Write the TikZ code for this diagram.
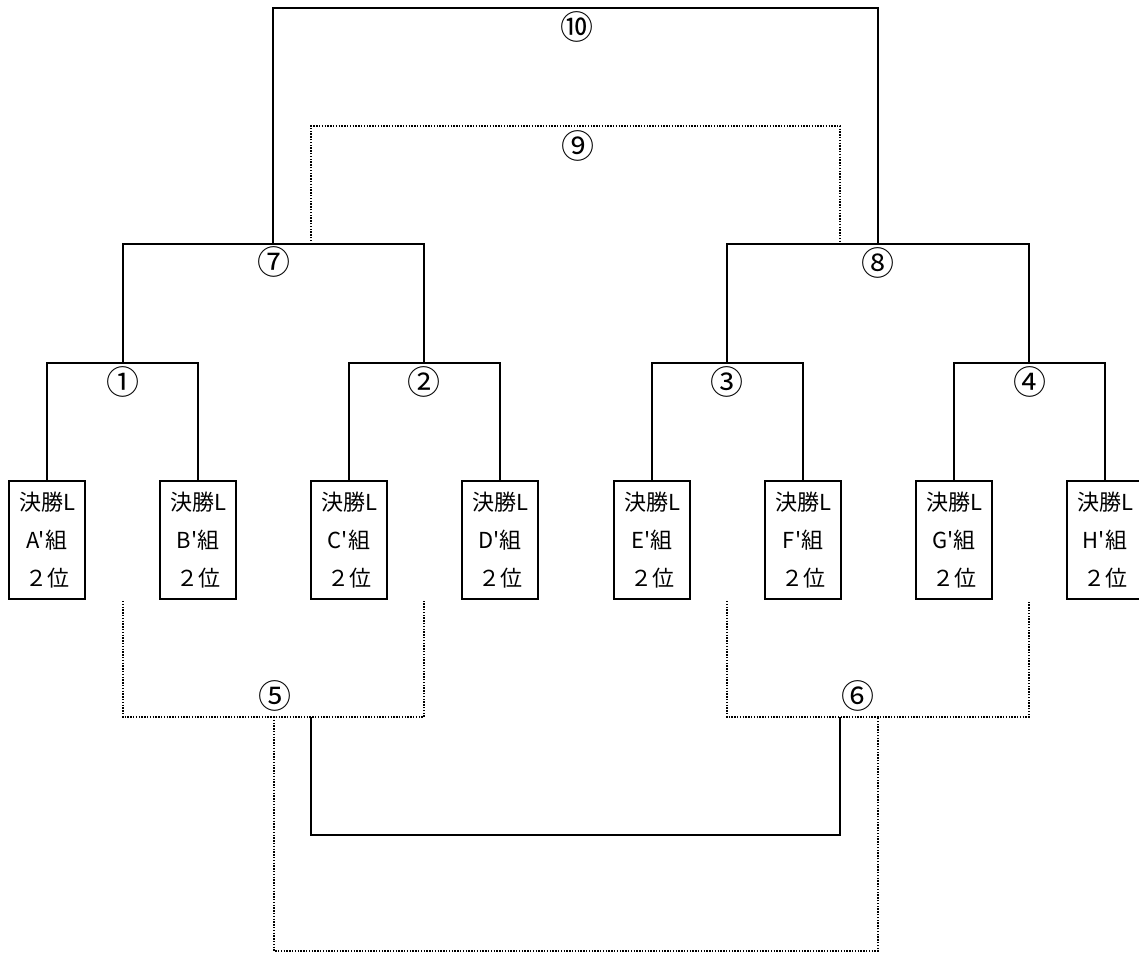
\documentclass[tikz,border=0pt]{standalone}
\usepackage{fontspec}
\setmainfont{Noto Sans CJK JP}[Ligatures=TeXOff]
\begin{document}
\begin{tikzpicture}[
  x=1pt,y=-1pt,
  entry/.style={draw, line width=1.6pt, minimum width=76pt, minimum height=118pt,
    inner sep=0pt, align=center, font=\fontsize{22}{38}\selectfont},
  solidline/.style={line width=1.8pt},
  dotline/.style={line width=1.5pt, dash pattern=on 1.4pt off 1.4pt},
  num/.style={inner sep=0pt, font=\fontsize{33}{33}\selectfont}
]
\useasboundingbox (0,0) rectangle (1139,953);
\clip (0,0) rectangle (1139,953);

% entry boxes
\node[entry] (A) at (47,540)   {決勝L\\A'組\\２位};
\node[entry] (B) at (198,540)  {決勝L\\B'組\\２位};
\node[entry] (C) at (349,540)  {決勝L\\C'組\\２位};
\node[entry] (D) at (500,540)  {決勝L\\D'組\\２位};
\node[entry] (E) at (652,540)  {決勝L\\E'組\\２位};
\node[entry] (F) at (803,540)  {決勝L\\F'組\\２位};
\node[entry] (G) at (954,540)  {決勝L\\G'組\\２位};
\node[entry] (H) at (1105,540) {決勝L\\H'組\\２位};

% junction coordinates
\coordinate (m1) at (123,363);
\coordinate (m2) at (424,363);
\coordinate (m3) at (727,363);
\coordinate (m4) at (1029,363);
\coordinate (m7) at (273,244);
\coordinate (m8) at (878,244);
\coordinate (t10) at (577,8);
\coordinate (d9a) at (311,244);
\coordinate (d9b) at (840,244);
\coordinate (t9) at (578,126);
\coordinate (b1) at (123,601);
\coordinate (b2) at (424,601);
\coordinate (b3) at (727,601);
\coordinate (b4) at (1029,601);
\coordinate (m5) at (274,717);
\coordinate (m6) at (878,717);
\coordinate (s5) at (311,717);
\coordinate (s6) at (840,717);
\coordinate (sb) at (575,835);
\coordinate (db) at (575,951);

% round 1
\draw[solidline] (A.north) |- (m1) -| (B.north);
\draw[solidline] (C.north) |- (m2) -| (D.north);
\draw[solidline] (E.north) |- (m3) -| (F.north);
\draw[solidline] (G.north) |- (m4) -| (H.north);
% round 2
\draw[solidline] (m1) |- (m7) -| (m2);
\draw[solidline] (m3) |- (m8) -| (m4);
% final
\draw[solidline] (m7) |- (t10) -| (m8);
% 3rd place (dotted)
\draw[dotline] (d9a) |- (t9) -| (d9b);
% lower brackets
\draw[dotline] (b1) |- (m5) -| (b2);
\draw[dotline] (b3) |- (m6) -| (b4);
\draw[solidline] (s5) |- (sb) -| (s6);
\draw[dotline] (m5) |- (db) -| (m6);

% labels
\node[num] (n1) at (123,382) {①};
\node[num] (n2) at (424,382) {②};
\node[num] (n3) at (727,382) {③};
\node[num] (n4) at (1030,382) {④};
\node[num] (n5) at (275,696) {⑤};
\node[num] (n6) at (858,696) {⑥};
\node[num] (n7) at (274,262) {⑦};
\node[num] (n8) at (878,263) {⑧};
\node[num] (n9) at (578,146) {⑨};
\node[num] (n10) at (577,27) {⑩};
\end{tikzpicture}
\end{document}
